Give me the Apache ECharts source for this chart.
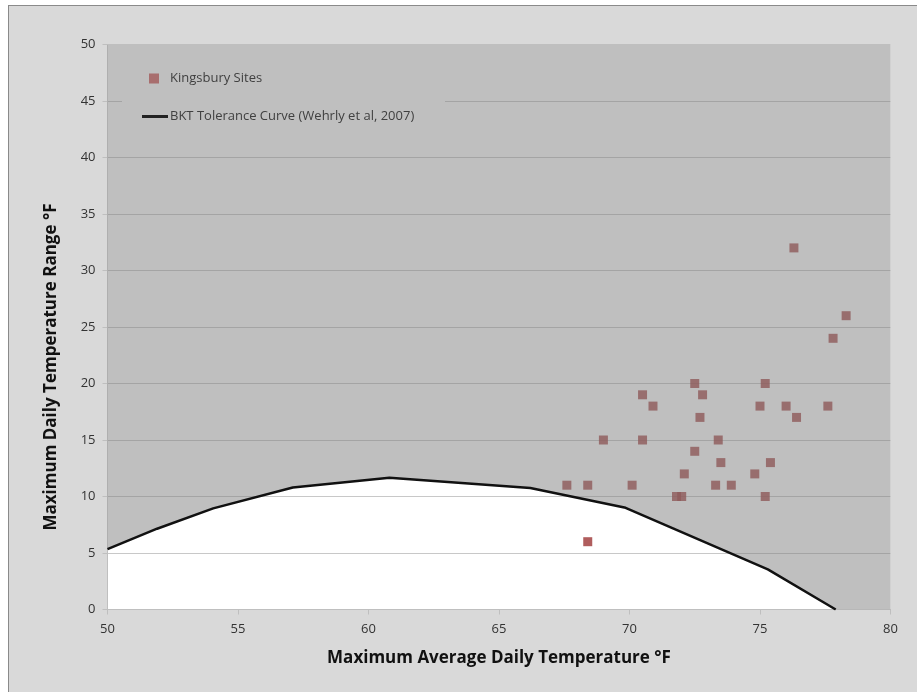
<!DOCTYPE html>
<html>
<head>
<meta charset="utf-8">
<script src="https://cdn.jsdelivr.net/npm/echarts@6/dist/echarts.min.js"></script>
<style>
  html, body { margin: 0; padding: 0; background: #ffffff; }
  #frame { position: absolute; left: 8px; top: 5px; width: 930px; height: 700px; background: #d9d9d9; border: 1px solid #8a8a8a; box-sizing: border-box; }
  #chart { position: absolute; left: 0; top: 0; width: 917px; height: 692px; }
</style>
</head>
<body>
<div id="frame"></div>
<div id="chart"></div>
<script>
// Kingsbury sites (x: max avg daily temp °F, y: max daily temp range °F)
const sitesX = [67.6, 68.4, 68.4, 69.0, 70.1, 70.5, 70.5, 70.9, 71.8, 72.0, 72.1, 72.5, 72.5, 72.7, 72.8, 73.3, 73.4, 73.5, 73.9, 74.8, 75.0, 75.2, 75.2, 75.4, 76.0, 76.3, 76.4, 77.6, 77.8, 78.3];
const sitesY = [11, 11, 6, 15, 11, 19, 15, 18, 10, 10, 12, 20, 14, 17, 19, 11, 15, 13, 11, 12, 18, 20, 10, 13, 18, 32, 17, 18, 24, 26];

// BKT tolerance curve (Wehrly et al, 2007)
const curveX = [50, 51.9, 54.05, 57.1, 60.8, 66.2, 69.85, 75.3, 77.9];
const curveY = [5.35, 7.15, 8.95, 10.8, 11.65, 10.75, 9.0, 3.55, 0];

// x extent of the plot (right edge of the shaded region)
const xMin = 50, xMax = 80;

const seriesNames = ['Kingsbury Sites', 'BKT Tolerance Curve (Wehrly et al, 2007)'];
const xTitle = 'Maximum Average Daily Temperature °F';
const yTitle = 'Maximum Daily Temperature Range °F';

const sites = sitesX.map((x, i) => [x, sitesY[i]]);
const curve = curveX.map((x, i) => [x, curveY[i]]);
const shade = curve.concat([[xMax, 0]]);

const font = '"Open Sans", "DejaVu Sans", sans-serif';

const chart = echarts.init(document.getElementById('chart'), null, { renderer: 'canvas' });
chart.setOption({
  backgroundColor: 'transparent',
  animation: false,
  textStyle: { fontFamily: font },
  grid: {
    left: 107.5, right: 26.5, top: 44.5, bottom: 82.5,
    show: true, backgroundColor: '#ffffff', borderWidth: 0
  },
  graphic: [{
    type: 'rect', z: 10, silent: true,
    shape: { x: 122, y: 52, width: 323, height: 88 },
    style: { fill: '#bfbfbf' }
  }],
  legend: [{
    z: 20, orient: 'vertical', left: 149, top: 72,
    itemWidth: 10, itemHeight: 10, padding: 0,
    data: [{ name: seriesNames[0], icon: 'rect', itemStyle: { color: '#a35a5a' } }],
    textStyle: { color: '#404040', fontSize: 13, fontFamily: font, padding: [0, 0, 0, 6] }
  }, {
    z: 20, orient: 'vertical', left: 142, top: 110,
    itemWidth: 26, itemHeight: 3, padding: 0,
    data: [{ name: seriesNames[1], icon: 'rect', itemStyle: { color: '#222' } }],
    textStyle: { color: '#404040', fontSize: 13, fontFamily: font, padding: [0, 0, 0, -3] }
  }],
  xAxis: {
    type: 'value', min: xMin, max: xMax, interval: 5,
    name: xTitle, nameLocation: 'middle', nameGap: 40,
    nameTextStyle: { fontSize: 17, fontWeight: 'bold', color: '#111', fontFamily: font },
    axisLine: { show: true, lineStyle: { color: '#bfbfbf', width: 1 } },
    axisTick: { show: true, length: 5, lineStyle: { color: '#bfbfbf' } },
    axisLabel: { color: '#333', fontSize: 13, margin: 13, fontFamily: font },
    splitLine: { show: false }
  },
  yAxis: {
    type: 'value', min: 0, max: 50, interval: 5,
    name: yTitle, nameLocation: 'middle', nameGap: 48,
    nameTextStyle: { fontSize: 17, fontWeight: 'bold', color: '#111', fontFamily: font, padding: [0, 80, 0, 0] },
    axisLine: { show: true, lineStyle: { color: '#bfbfbf', width: 1 } },
    axisTick: { show: true, length: 5, lineStyle: { color: '#bfbfbf' } },
    axisLabel: { color: '#333', fontSize: 13, margin: 12, fontFamily: font },
    splitLine: { show: true, lineStyle: { color: '#c8c8c8', width: 1 } }
  },
  series: [{
    name: seriesNames[0], type: 'scatter', z: 2,
    symbol: 'rect', symbolSize: 9,
    itemStyle: { color: '#9c3535' },
    data: sites
  }, {
    name: 'shade', type: 'line', z: 3, silent: true,
    showSymbol: false, symbol: 'none',
    lineStyle: { width: 0, opacity: 0 },
    areaStyle: { color: '#808080', opacity: 0.5, origin: 'end' },
    data: shade
  }, {
    name: seriesNames[1], type: 'line', z: 4,
    showSymbol: false, symbol: 'none',
    itemStyle: { color: '#111' },
    lineStyle: { color: '#111', width: 2.5 },
    data: curve
  }]
});
</script>
</body>
</html>
